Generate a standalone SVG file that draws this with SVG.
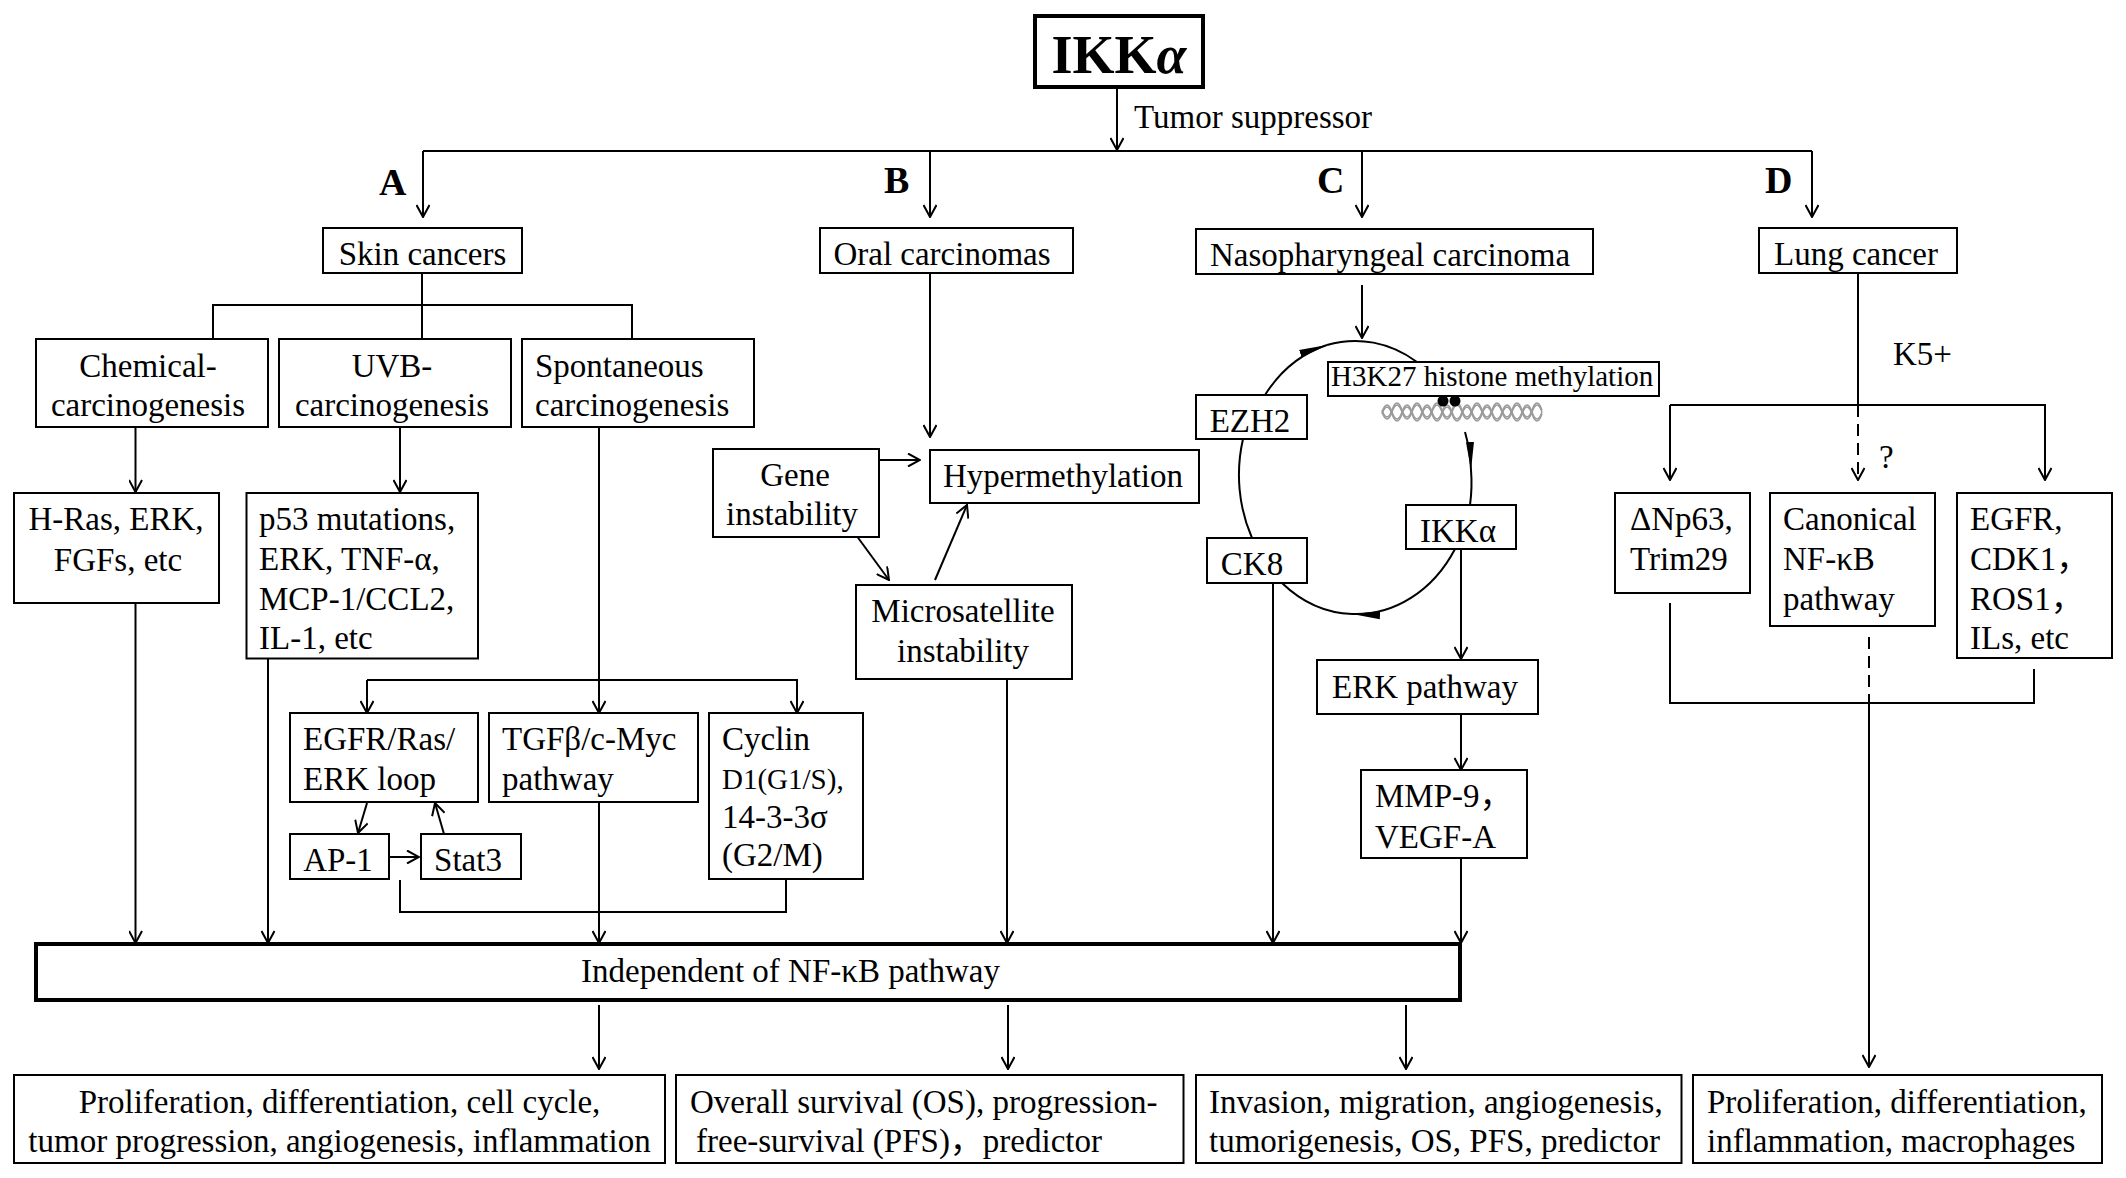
<svg xmlns="http://www.w3.org/2000/svg" width="2126" height="1178" viewBox="0 0 2126 1178">
<style>
.bx{fill:#fff;stroke:#000;stroke-width:2}
.bk{fill:#fff;stroke:#000;stroke-width:4}
.t{font-family:"Liberation Serif","Times New Roman","Noto Sans CJK SC",serif;font-size:33px;fill:#000}
.m{text-anchor:middle}
.big{font-size:54px;font-weight:bold}
.sm{font-size:29px}
.lb{font-family:"Liberation Serif","Times New Roman",serif;font-size:38px;font-weight:bold;fill:#000}
.c{stroke:#000;stroke-width:2;fill:none}
.a{marker-end:url(#arr)}
.f{marker-end:url(#tri)}
.d{stroke-dasharray:12 7}
.dna{fill:none;stroke:#9a9a9a;stroke-width:1.5}
</style>
<defs>
<marker id="arr" viewBox="0 0 14 14" refX="13" refY="7" markerWidth="14" markerHeight="14" markerUnits="userSpaceOnUse" orient="auto">
<path d="M1,0.5 L13,7 L1,13.5" fill="none" stroke="#000" stroke-width="2"/>
</marker>
<marker id="tri" viewBox="0 0 28 10" refX="28" refY="5" markerWidth="28" markerHeight="10" markerUnits="userSpaceOnUse" orient="auto">
<path d="M0,1 L28,5 L0,9 Z" fill="#000"/>
</marker>
</defs>
<rect width="2126" height="1178" fill="#fff"/>

<g id="connectors">
<path class="c a" d="M1117,87 V150"/>
<path class="c" d="M423,151 H1812"/>
<path class="c a" d="M423,151 V217"/>
<path class="c a" d="M930,151 V217"/>
<path class="c a" d="M1362,151 V217"/>
<path class="c a" d="M1812,151 V217"/>
<path class="c" d="M422,273 V339 M213,339 V305 H632 V339"/>
<path class="c a" d="M135.5,427 V492"/>
<path class="c a" d="M400,427 V492"/>
<path class="c a" d="M135.5,603 V943"/>
<path class="c a" d="M268,658 V943"/>
<path class="c a" d="M599,427 V713"/>
<path class="c a" d="M367,680 H797 V713"/>
<path class="c a" d="M367,680 V713"/>
<path class="c a" d="M367,803 L358,833"/>
<path class="c a" d="M444,834 L435,803"/>
<path class="c a" d="M389,857 H419"/>
<path class="c" d="M400,880 V912 H786 V879"/>
<path class="c a" d="M599,802 V943"/>
<path class="c a" d="M930,273 V437"/>
<path class="c a" d="M879,460 H920"/>
<path class="c a" d="M857.5,537 L889,580"/>
<path class="c a" d="M935,580 L967,505"/>
<path class="c a" d="M1007,679 V943"/>
<path class="c a" d="M1362,285 V338"/>
<path class="c f" d="M1265,395 A116,137 0 0,1 1327,345"/>
<path class="c" d="M1327,345 A116,137 0 0,1 1417,362"/>
<path class="c f" d="M1465,432 A116,137 0 0,1 1471,470"/>
<path class="c" d="M1471,470 A116,137 0 0,1 1470,505"/>
<path class="c f" d="M1455,549 A116,137 0 0,1 1352,614"/>
<path class="c" d="M1352,614 A116,137 0 0,1 1282,583"/>
<path class="c" d="M1252,538 A116,137 0 0,1 1243,439"/>
<path class="c a" d="M1273,583 V943"/>
<path class="c a" d="M1461,549 V659"/>
<path class="c a" d="M1461,714 V770"/>
<path class="c a" d="M1461,858 V943"/>
<path class="c a" d="M599,1005 V1069"/>
<path class="c a" d="M1008,1005 V1069"/>
<path class="c a" d="M1406,1005 V1069"/>
<path class="c" d="M1858,273 V405"/>
<path class="c a d" d="M1858,405 V480"/>
<path class="c a" d="M1670,405 H2045 V480"/>
<path class="c a" d="M1670,405 V480"/>
<path class="c" d="M1670,603 V703 H2034 V669"/>
<path class="c d" d="M1869,637 V703"/>
<path class="c a" d="M1869,703 V1067"/>
</g>

<g id="labels">
<text class="t" x="1134" y="128">Tumor suppressor</text>
<text class="lb" x="379" y="195">A</text>
<text class="lb" x="884" y="193">B</text>
<text class="lb" x="1317" y="193">C</text>
<text class="lb" x="1765" y="193">D</text>
<text class="t" x="1893" y="365">K5+</text>
<text class="t" x="1879" y="468">?</text>
</g>

<g id="dna">
<path class="dna" d="M1382,412 q5,-14 10,0 t10,0 t10,0 t10,0 t10,0 t10,0 t10,0 t10,0 t10,0 t10,0 t10,0 t10,0 t10,0 t10,0 t10,0 t10,0"/>
<path class="dna" d="M1382,412 q5,14 10,0 t10,0 t10,0 t10,0 t10,0 t10,0 t10,0 t10,0 t10,0 t10,0 t10,0 t10,0 t10,0 t10,0 t10,0 t10,0"/>
<path class="dna" stroke="#c4c4c4" d="M1382,414 q5,-14 10,0 t10,0 t10,0 t10,0 t10,0 t10,0 t10,0 t10,0 t10,0 t10,0 t10,0 t10,0 t10,0 t10,0 t10,0 t10,0"/>
<path class="dna" stroke="#c4c4c4" d="M1382,410 q5,14 10,0 t10,0 t10,0 t10,0 t10,0 t10,0 t10,0 t10,0 t10,0 t10,0 t10,0 t10,0 t10,0 t10,0 t10,0 t10,0"/>
<circle cx="1443" cy="401" r="5.5" fill="#000"/>
<circle cx="1455" cy="401" r="5.5" fill="#000"/>
</g>

<g id="ikka-top">
<rect class="bk" x="1035" y="16" width="168" height="71"/>
<text class="t m big" x="1119" y="73">IKK<tspan font-style="italic">α</tspan></text>
</g>
<g id="skin">
<rect class="bx" x="323" y="228" width="199" height="45"/>
<text class="t m" x="422.5" y="265">Skin cancers</text>
</g>
<g id="oral">
<rect class="bx" x="820" y="228" width="253" height="45"/>
<text class="t m" x="942" y="265">Oral carcinomas</text>
</g>
<g id="naso">
<rect class="bx" x="1196" y="229" width="397" height="45"/>
<text class="t m" x="1390" y="266">Nasopharyngeal carcinoma</text>
</g>
<g id="lung">
<rect class="bx" x="1759" y="228" width="198" height="45"/>
<text class="t m" x="1856" y="265">Lung cancer</text>
</g>
<g id="chem">
<rect class="bx" x="36" y="339" width="232" height="88"/>
<text class="t m" x="148" y="377">Chemical-</text>
<text class="t m" x="148" y="416">carcinogenesis</text>
</g>
<g id="uvb">
<rect class="bx" x="279" y="339" width="232" height="88"/>
<text class="t m" x="392" y="377">UVB-</text>
<text class="t m" x="392" y="416">carcinogenesis</text>
</g>
<g id="spont">
<rect class="bx" x="522" y="339" width="232" height="88"/>
<text class="t" x="535" y="377">Spontaneous</text>
<text class="t" x="535" y="416">carcinogenesis</text>
</g>
<g id="hras">
<rect class="bx" x="14" y="493" width="205" height="110"/>
<text class="t m" x="116" y="530">H-Ras, ERK,</text>
<text class="t m" x="118" y="571">FGFs, etc</text>
</g>
<g id="p53">
<rect class="bx" x="246.5" y="493" width="231.5" height="165.5"/>
<text class="t" x="259" y="530">p53 mutations,</text>
<text class="t" x="259" y="570">ERK, TNF-α,</text>
<text class="t" x="259" y="610">MCP-1/CCL2,</text>
<text class="t" x="259" y="649">IL-1, etc</text>
</g>
<g id="egfrloop">
<rect class="bx" x="290" y="713" width="188" height="89"/>
<text class="t" x="303" y="750">EGFR/Ras/</text>
<text class="t" x="303" y="790">ERK loop</text>
</g>
<g id="tgf">
<rect class="bx" x="489" y="713" width="209" height="89"/>
<text class="t" x="502" y="750">TGFβ/c-Myc</text>
<text class="t" x="502" y="790">pathway</text>
</g>
<g id="cyclin">
<rect class="bx" x="709" y="713" width="154" height="166"/>
<text class="t" x="722" y="750">Cyclin</text>
<text class="t sm" x="722" y="789">D1(G1/S),</text>
<text class="t" x="722" y="828">14-3-3σ</text>
<text class="t" x="722" y="866">(G2/M)</text>
</g>
<g id="ap1">
<rect class="bx" x="290" y="834" width="99" height="45"/>
<text class="t m" x="338" y="871">AP-1</text>
</g>
<g id="stat3">
<rect class="bx" x="421" y="834" width="100" height="45"/>
<text class="t m" x="468" y="871">Stat3</text>
</g>
<g id="gene">
<rect class="bx" x="713" y="449" width="166" height="88"/>
<text class="t m" x="795" y="486">Gene</text>
<text class="t m" x="792" y="525">instability</text>
</g>
<g id="hyper">
<rect class="bx" x="930" y="450" width="269" height="53"/>
<text class="t m" x="1063" y="487">Hypermethylation</text>
</g>
<g id="micro">
<rect class="bx" x="856" y="585" width="216" height="94"/>
<text class="t m" x="963" y="622">Microsatellite</text>
<text class="t m" x="963" y="662">instability</text>
</g>
<g id="ezh2">
<rect class="bx" x="1196" y="395" width="111" height="44"/>
<text class="t m" x="1250" y="432">EZH2</text>
</g>
<g id="h3k27">
<rect class="bx" x="1328" y="362" width="331" height="34"/>
<text class="t sm" x="1331" y="386">H3K27 histone methylation</text>
</g>
<g id="ikka-c">
<rect class="bx" x="1406" y="505" width="110" height="44"/>
<text class="t m" x="1458" y="542">IKKα</text>
</g>
<g id="ck8">
<rect class="bx" x="1207" y="538" width="100" height="45"/>
<text class="t m" x="1252" y="575">CK8</text>
</g>
<g id="erk">
<rect class="bx" x="1317" y="660" width="221" height="54"/>
<text class="t m" x="1425" y="698">ERK pathway</text>
</g>
<g id="mmp">
<rect class="bx" x="1361" y="770" width="166" height="88"/>
<text class="t" x="1375" y="807">MMP-9，</text>
<text class="t" x="1375" y="848">VEGF-A</text>
</g>
<g id="dnp63">
<rect class="bx" x="1615" y="493" width="135" height="100"/>
<text class="t" x="1630" y="530">ΔNp63,</text>
<text class="t" x="1630" y="570">Trim29</text>
</g>
<g id="canonical">
<rect class="bx" x="1770" y="493" width="165" height="133"/>
<text class="t" x="1783" y="530">Canonical</text>
<text class="t" x="1783" y="570">NF-κB</text>
<text class="t" x="1783" y="610">pathway</text>
</g>
<g id="egfr-lung">
<rect class="bx" x="1957" y="493" width="155" height="165"/>
<text class="t" x="1970" y="530">EGFR,</text>
<text class="t" x="1970" y="570">CDK1，</text>
<text class="t" x="1970" y="610">ROS1，</text>
<text class="t" x="1970" y="649">ILs, etc</text>
</g>
<g id="independent">
<rect class="bk" x="36" y="944" width="1424" height="56"/>
<text class="t" x="581" y="982">Independent of NF-κB pathway</text>
</g>
<g id="out1">
<rect class="bx" x="14" y="1075" width="651" height="88"/>
<text class="t m" x="339.5" y="1113">Proliferation, differentiation, cell cycle,</text>
<text class="t m" x="339.5" y="1152">tumor progression, angiogenesis, inflammation</text>
</g>
<g id="out2">
<rect class="bx" x="676" y="1075" width="507.5" height="88"/>
<text class="t" x="690" y="1113">Overall survival (OS), progression-</text>
<text class="t" x="696" y="1152">free-survival (PFS)，predictor</text>
</g>
<g id="out3">
<rect class="bx" x="1196" y="1075" width="485.5" height="88"/>
<text class="t" x="1209" y="1113">Invasion, migration, angiogenesis,</text>
<text class="t" x="1209" y="1152">tumorigenesis, OS, PFS, predictor</text>
</g>
<g id="out4">
<rect class="bx" x="1693" y="1075" width="409" height="88"/>
<text class="t" x="1707" y="1113">Proliferation, differentiation,</text>
<text class="t" x="1707" y="1152">inflammation, macrophages</text>
</g>
</svg>
